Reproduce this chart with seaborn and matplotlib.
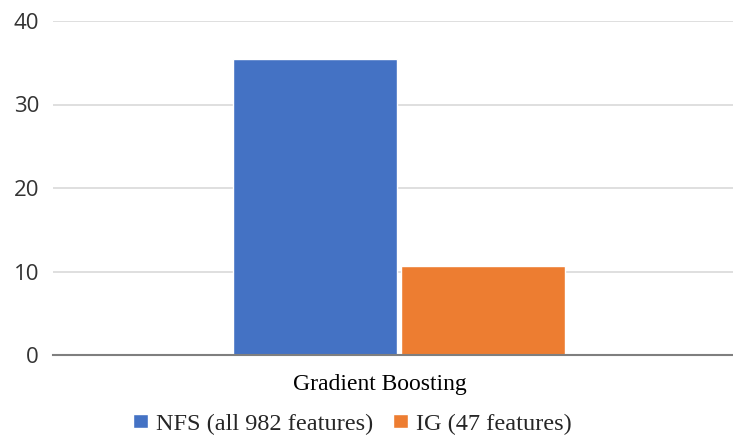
import matplotlib
matplotlib.use("Agg")
import matplotlib.pyplot as plt
import seaborn as sns
import pandas as pd
from matplotlib.transforms import ScaledTranslation

# Chart data
models = ["Gradient Boosting"]
methods = ["NFS (all 982 features)", "IG (47 features)"]
nfs_values = [35.5]
ig_values = [10.7]
y_ticks = [0, 10, 20, 30, 40]

colors = ["#4472C4", "#ED7D31"]

df = pd.DataFrame({
    "model": models * 2,
    "method": [methods[0]] * len(models) + [methods[1]] * len(models),
    "value": nfs_values + ig_values,
})

sns.set_theme(style="white")
plt.rcParams["font.family"] = ["Open Sans", "DejaVu Sans"]

fig = plt.figure(figsize=(7.33, 4.43), dpi=100)
ax = fig.add_axes([53 / 733, 88 / 443, 680 / 733, 334 / 443])

sns.barplot(data=df, x="model", y="value", hue="method", palette=colors,
            width=0.8, gap=0.021, ax=ax, saturation=1, legend=True)

ax.set_ylim(0, 40)
ax.set_xlim(-0.826, 0.798)
ax.set_yticks(y_ticks)
ax.set_yticklabels([str(t) for t in y_ticks])
ax.set_xlabel("")
ax.set_ylabel("")

ax.set_axisbelow(True)
ax.yaxis.grid(True, color="#D9D9D9", linewidth=1.2)
ax.xaxis.grid(False)
for side in ["top", "right", "left"]:
    ax.spines[side].set_visible(False)
ax.spines["bottom"].set_color("#7F7F7F")
ax.spines["bottom"].set_linewidth(1.5)

ax.tick_params(axis="y", length=0, pad=10, labelsize=16, labelcolor="#333333")
ax.tick_params(axis="x", length=0, pad=14, labelsize=17)
shift = ScaledTranslation(-19 / 100, 0, fig.dpi_scale_trans)
for lbl in ax.get_xticklabels():
    lbl.set_fontfamily(["Liberation Serif", "DejaVu Serif"])
    lbl.set_color("#000000")
    lbl.set_transform(lbl.get_transform() + shift)

handles, labels = ax.get_legend_handles_labels()
ax.get_legend().remove()
fig.legend(handles, labels, loc="center", bbox_to_anchor=(352.5 / 733, 1 - 424 / 443),
           ncol=2, frameon=False,
           prop={"family": ["Liberation Serif", "DejaVu Serif"], "size": 17.5},
           handlelength=0.62, handleheight=0.55, handletextpad=0.33,
           columnspacing=0.82, borderaxespad=0, borderpad=0)

fig.savefig("out.png", dpi=100)
